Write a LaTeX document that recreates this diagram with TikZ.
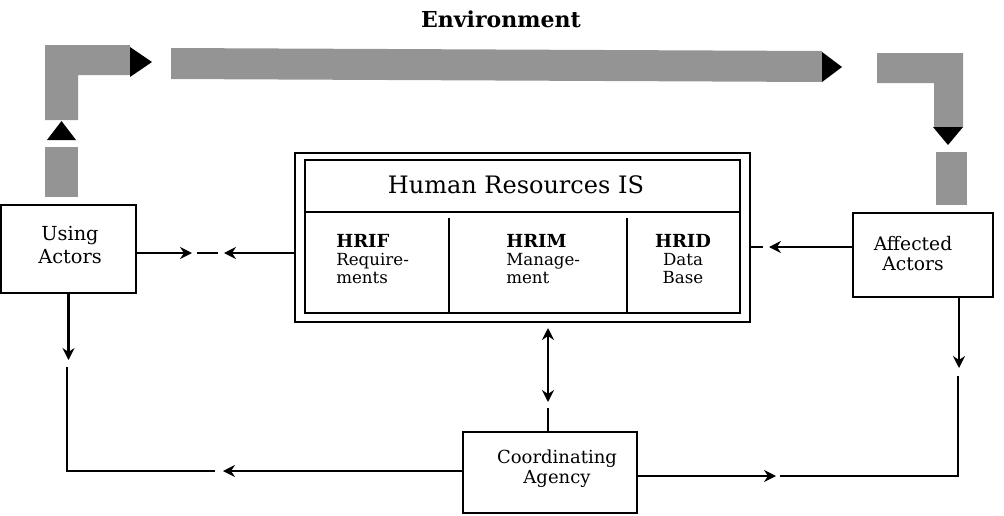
\documentclass[tikz,border=0pt]{standalone}
\usepackage{fontspec}
\setmainfont{DejaVu Serif}
\usetikzlibrary{arrows.meta}
\newcommand\hdfont{\fontsize{13.5}{13.5}\bfseries\selectfont}
\begin{document}
\begin{tikzpicture}[x=0.75pt,y=-0.75pt,
  box/.style={draw,line width=1.5pt,inner sep=0pt},
  ln/.style={line width=1.7pt},
  arr/.style={line width=1.7pt,-{Stealth[length=9pt,width=9pt,inset=3pt]}},
  darr/.style={line width=1.7pt,{Stealth[length=9pt,width=9pt,inset=3pt]}-{Stealth[length=9pt,width=9pt,inset=3pt]}},
  shade/.style={fill=black!42},
  tip/.style={fill=black},
  lbl/.style={inner sep=0pt,font=\fontsize{14}{15}\selectfont},
  col/.style={inner sep=0pt,font=\fontsize{12.5}{13.5}\selectfont}]
\useasboundingbox (0,0) rectangle (1004,515);

% title
\node[inner sep=0pt,font=\fontsize{16.5}{18}\bfseries\selectfont,anchor=base] (env) at (501,27) {Environment};

% shaded flow arrows
\path[shade] (45,45) -- (130,45) -- (130,75) -- (78,75) -- (78,120) -- (45,120) -- cycle;
\path[tip] (130,47) -- (152,62) -- (130,77) -- cycle;
\path[tip] (47,140) -- (61.5,121) -- (76,140) -- cycle;
\path[shade] (45,147) rectangle (78,197);
\path[shade] (171,48) -- (822,51) -- (822,82) -- (171,79) -- cycle;
\path[tip] (822,52) -- (842,67) -- (822,82) -- cycle;
\path[shade] (877,53) -- (963,53) -- (963,127) -- (934,127) -- (934,83) -- (877,83) -- cycle;
\path[tip] (933,127) -- (963,127) -- (948,145) -- cycle;
\path[shade] (936,152) rectangle (967,205);

% boxes
\node[box,minimum width=101.25pt,minimum height=66pt] (UA) at (68.5,249) {};
\node[lbl,align=center,font=\fontsize{14.5}{17}\selectfont] (UAt) at (70,245) {Using\\Actors};
\node[box,minimum width=105pt,minimum height=63pt] (AA) at (923,255) {};
\node[lbl,align=center] (AAt) at (913,254) {Affected\\Actors};
\node[box,minimum width=130.5pt,minimum height=60.75pt] (CA) at (550,472.5) {};
\node[lbl,align=center,font=\fontsize{13.5}{15}\selectfont] (CAt) at (557,469) {Coordinating\\Agency};

% Human Resources IS
\node[box,minimum width=341.25pt,minimum height=126.75pt] (HRo) at (522.5,237.5) {};
\node[box,minimum width=326.25pt,minimum height=114.75pt] (HRi) at (522.5,236.5) {};
\draw[ln] (HRi.west |- 0,212) -- (HRi.east |- 0,212);
\draw[ln] (449,218) -- (449,313);
\draw[ln] (627,218) -- (627,313);
\node[inner sep=0pt,font=\fontsize{18}{22}\selectfont,anchor=base] (HRt) at (516,193) {Human Resources IS};
\node[col,align=left,anchor=west] (c1) at (336,259) {{\hdfont HRIF}\\Require-\\ments};
\node[col,align=left,anchor=west] (c2) at (506,259) {{\hdfont HRIM}\\Manage-\\ment};
\node[col,align=center] (c3) at (683,259) {{\hdfont HRID}\\Data\\Base};

% connectors
\coordinate (d1a) at (197,253);
\coordinate (d1b) at (218,253);
\draw[arr] (UA.east |- d1a) -- (192,253);
\draw[ln] (d1a) -- (d1b);
\draw[arr] (HRo.west |- d1a) -- (224,253);

\coordinate (d2) at (763,247);
\draw[arr] (AA.west |- d2) -- (769,247);
\draw[ln] (HRo.east |- d2) -- (d2);

\draw[arr] (UA.south) -- (68.5,360);
\coordinate (lc) at (215,471);
\draw[ln] (67,367) |- (lc);
\draw[arr] (CA.west |- lc) -- (223,471);

\coordinate (rc) at (780,476);
\draw[arr] (CA.east |- rc) -- (776,476);
\draw[ln] (rc) -| (958,376);
\draw[arr] (AA.south -| 959,0) -- (959,368);

\coordinate (vc) at (548,408);
\draw[darr] (548,328) -- (548,402);
\draw[ln] (vc) -- (CA.north -| vc);
\end{tikzpicture}
\end{document}
